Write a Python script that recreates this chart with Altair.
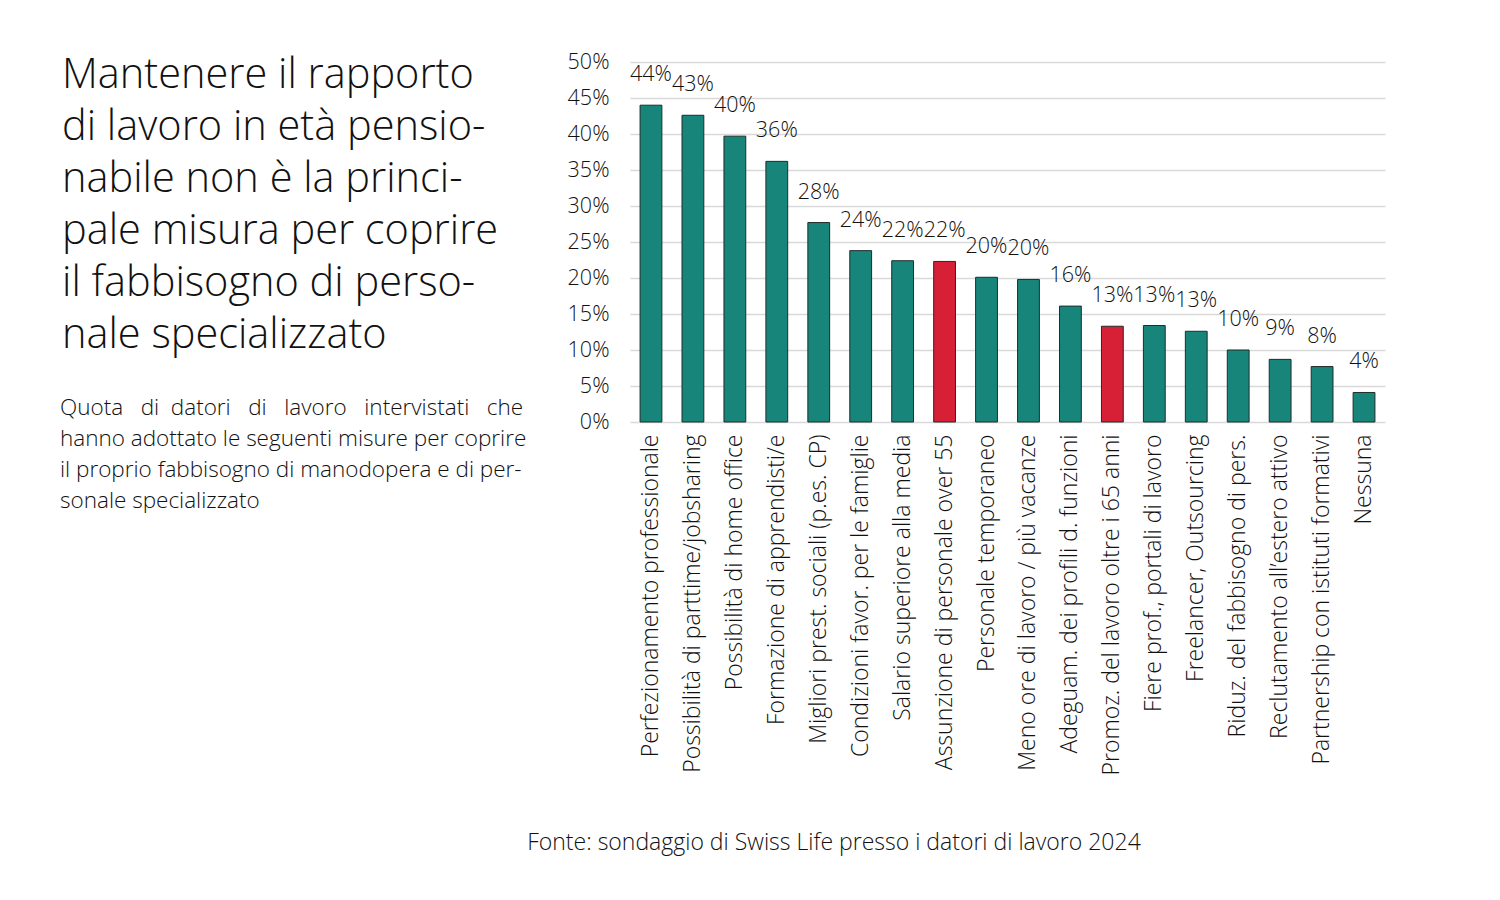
import altair as alt
import pandas as pd

# Survey measures, in display order
measures = [
    "Perfezionamento professionale",
    "Possibilità di parttime/jobsharing",
    "Possibilità di home office",
    "Formazione di apprendisti/e",
    "Migliori prest. sociali (p.es. CP)",
    "Condizioni favor. per le famiglie",
    "Salario superiore alla media",
    "Assunzione di personale over 55",
    "Personale temporaneo",
    "Meno ore di lavoro / più vacanze",
    "Adeguam. dei profili d. funzioni",
    "Promoz. del lavoro oltre i 65 anni",
    "Fiere prof., portali di lavoro",
    "Freelancer, Outsourcing",
    "Riduz. del fabbisogno di pers.",
    "Reclutamento all’estero attivo",
    "Partnership con istituti formativi",
    "Nessuna",
]
# Share of employers (fraction)
shares = [0.440, 0.426, 0.397, 0.362, 0.277, 0.238, 0.224, 0.223, 0.201, 0.198,
          0.161, 0.133, 0.134, 0.126, 0.100, 0.087, 0.077, 0.041]
# Measures concerning older workers are highlighted
highlighted = [False, False, False, False, False, False, False, True, False, False,
               False, True, False, False, False, False, False, False]
# Y axis ticks
tick_values = [0.0, 0.05, 0.10, 0.15, 0.20, 0.25, 0.30, 0.35, 0.40, 0.45, 0.50]

title_lines = [
    "Mantenere il rapporto",
    "di lavoro in età pensio-",
    "nabile non è la princi-",
    "pale misura per coprire",
    "il fabbisogno di perso-",
    "nale specializzato",
]
NB = "\u00a0"
W3, W2 = NB * 3, NB * 2  # widened word gaps for the justified first line
subtitle_lines = [
    f"Quota{W3}di{W2}datori{W3}di{W3}lavoro{W3}intervistati{W3}che",
    "hanno adottato le seguenti misure per coprire",
    "il proprio fabbisogno di manodopera e di per-",
    "sonale specializzato",
]
source_text = "Fonte: sondaggio di Swiss Life presso i datori di lavoro 2024"

TEAL = "#17857A"
RED = "#D71F36"
INK = "#111111"
FONT = "Open Sans"
WEIGHT = 300

df = pd.DataFrame({"misura": measures, "quota": shares,
                   "gruppo": ["over" if h else "altro" for h in highlighted]})

PLOT_W, PLOT_H = 755, 360
LEFT, TOP = 630, 62

y_axis = alt.Axis(title=None, values=tick_values, format=".0%",
                  labelFontSize=21.5, labelPadding=21, labelFontWeight=WEIGHT,
                  labelOverlap=False, ticks=False, domain=False, grid=True,
                  gridColor="#D9D9D9", gridWidth=1.6, labelColor=INK)
x_axis = alt.Axis(title=None, labelAngle=270, labelFontSize=23,
                  labelFontWeight=WEIGHT, labelPadding=12, ticks=False,
                  domain=False, labelLimit=600, labelColor=INK)
x_enc = alt.X("misura:N", sort=None,
              scale=alt.Scale(paddingInner=0.48, paddingOuter=0.24),
              axis=x_axis)
y_enc = alt.Y("quota:Q", scale=alt.Scale(domain=[0, 0.5], nice=False),
              axis=y_axis)

base = alt.Chart(df)

bars = base.mark_bar(stroke="#1f2d2b", strokeWidth=1).encode(
    x=x_enc,
    y=y_enc,
    color=alt.Color("gruppo:N",
                    scale=alt.Scale(domain=["altro", "over"], range=[TEAL, RED]),
                    legend=None),
)

values = base.mark_text(baseline="alphabetic", dy=-24, fontSize=21.5,
                        fontWeight=WEIGHT, color=INK, font=FONT).encode(
    x=x_enc,
    y=y_enc,
    text=alt.Text("quota:Q", format=".0%"),
)

one = alt.Chart(pd.DataFrame({"k": [0]}))

title = one.mark_text(text=title_lines, align="left", baseline="alphabetic",
                      fontSize=41.5, lineHeight=52, font=FONT, fontWeight=WEIGHT,
                      color=INK).encode(
    x=alt.value(62 - LEFT), y=alt.value(88 - TOP))

subtitle = one.mark_text(text=subtitle_lines, align="left", baseline="alphabetic",
                         fontSize=22.5, lineHeight=31, font=FONT, fontWeight=WEIGHT,
                         color=INK).encode(
    x=alt.value(60 - LEFT), y=alt.value(415 - TOP))

source = one.mark_text(text=source_text, align="center", baseline="alphabetic",
                       fontSize=23, font=FONT, fontWeight=WEIGHT,
                       color=INK).encode(
    x=alt.value(834 - LEFT), y=alt.value(850 - TOP))

chart = alt.layer(bars, values, title, subtitle, source).properties(
    width=PLOT_W, height=PLOT_H,
    autosize=alt.AutoSizeParams(type="none"),
    padding={"left": LEFT, "top": TOP, "right": 1500 - LEFT - PLOT_W,
             "bottom": 900 - TOP - PLOT_H},
    background="white",
).configure(font=FONT).configure_view(stroke=None)

chart.save("out.html", embed_options={"renderer": "svg", "actions": False})
